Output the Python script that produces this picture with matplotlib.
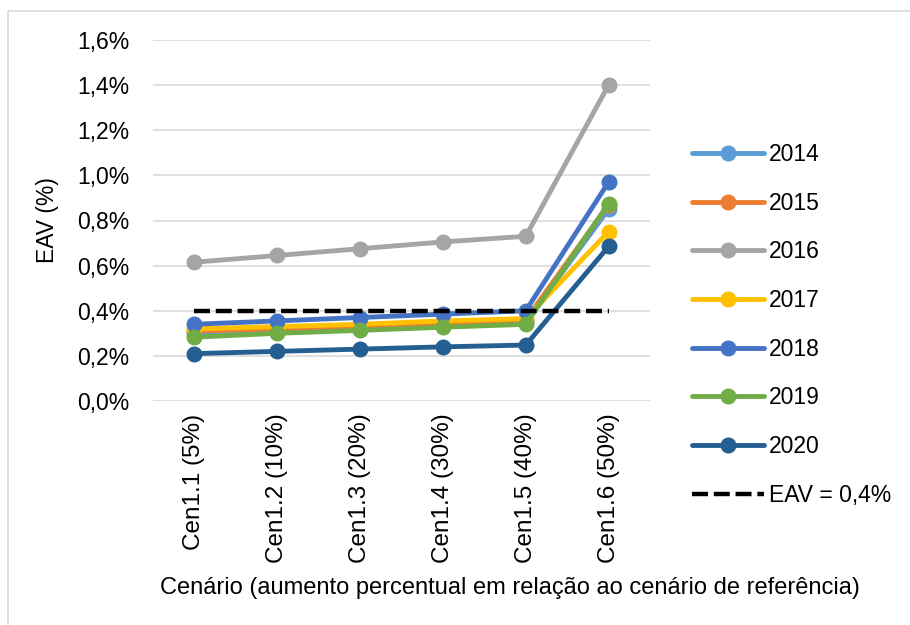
import matplotlib.pyplot as plt
from matplotlib.patches import Rectangle
from matplotlib.ticker import FuncFormatter

plt.rcParams['font.family'] = ['Liberation Sans', 'DejaVu Sans']

# cenários e valores de EAV (%) por ano
cenarios = ['Cen1.1 (5%)', 'Cen1.2 (10%)', 'Cen1.3 (20%)',
            'Cen1.4 (30%)', 'Cen1.5 (40%)', 'Cen1.6 (50%)']
anos = ['2014', '2015', '2016', '2017', '2018', '2019', '2020']
eav_2014 = [0.30, 0.31, 0.32, 0.335, 0.35, 0.85]
eav_2015 = [0.31, 0.32, 0.33, 0.345, 0.36, 0.87]
eav_2016 = [0.615, 0.645, 0.675, 0.705, 0.73, 1.40]
eav_2017 = [0.32, 0.33, 0.34, 0.355, 0.365, 0.75]
eav_2018 = [0.34, 0.355, 0.37, 0.385, 0.40, 0.97]
eav_2019 = [0.283, 0.30, 0.313, 0.327, 0.34, 0.875]
eav_2020 = [0.21, 0.22, 0.23, 0.24, 0.248, 0.685]
limite = 0.4

series = [eav_2014, eav_2015, eav_2016, eav_2017, eav_2018, eav_2019, eav_2020]
cores = ['#5B9BD5', '#ED7D31', '#A5A5A5', '#FFC000', '#4472C4', '#70AD47', '#255E91']
fs = 16.5

fig = plt.figure(figsize=(9.1, 6.25), dpi=100)
ax = fig.add_axes([153 / 910, 1 - 401 / 625, 497 / 910, 361 / 625])

# moldura cinza do gráfico
fig.patches.append(Rectangle((8 / 910, -0.1), 1.2, 1.1 - 11 / 625,
                             transform=fig.transFigure, fill=False,
                             edgecolor='#D9D9D9', linewidth=1.2))

x = range(len(cenarios))
for ano, vals, cor in zip(anos, series, cores):
    ax.plot(x, vals, color=cor, linewidth=3.5, marker='o', markersize=10.5,
            label=ano, solid_capstyle='round')
ax.plot(x, [limite] * len(cenarios), color='black', linewidth=3.2,
        linestyle=(0, (3.6, 1.3)), label='EAV = 0,4%')

ax.set_ylim(0, 1.6)
ax.set_yticks([i * 0.2 for i in range(9)])
ax.yaxis.set_major_formatter(FuncFormatter(lambda v, p: f'{v:.1f}%'.replace('.', ',')))
ax.set_xlim(-0.5, len(cenarios) - 0.5)
ax.set_xticks(list(x))
ax.set_xticklabels(cenarios, rotation=90, fontsize=17.5)
ax.tick_params(axis='y', labelsize=fs, length=0, pad=17)
ax.tick_params(axis='x', length=0, pad=9)
ax.grid(axis='y', color='#D9D9D9', linewidth=1.2)
ax.set_axisbelow(True)
for s in ax.spines.values():
    s.set_visible(False)

ax.set_ylabel('EAV (%)', fontsize=fs)
ax.yaxis.set_label_coords(-0.189, 0.5)
fig.text(510 / 910, 1 - 588 / 625, 'Cenário (aumento percentual em relação ao cenário de referência)',
         ha='center', va='center', fontsize=17)

ax.legend(loc='upper left', bbox_to_anchor=(1.066, 0.74), frameon=False,
          fontsize=fs, handlelength=3.15, labelspacing=1.12, handletextpad=0.2,
          borderaxespad=0)

fig.savefig('out.png', dpi=100)
